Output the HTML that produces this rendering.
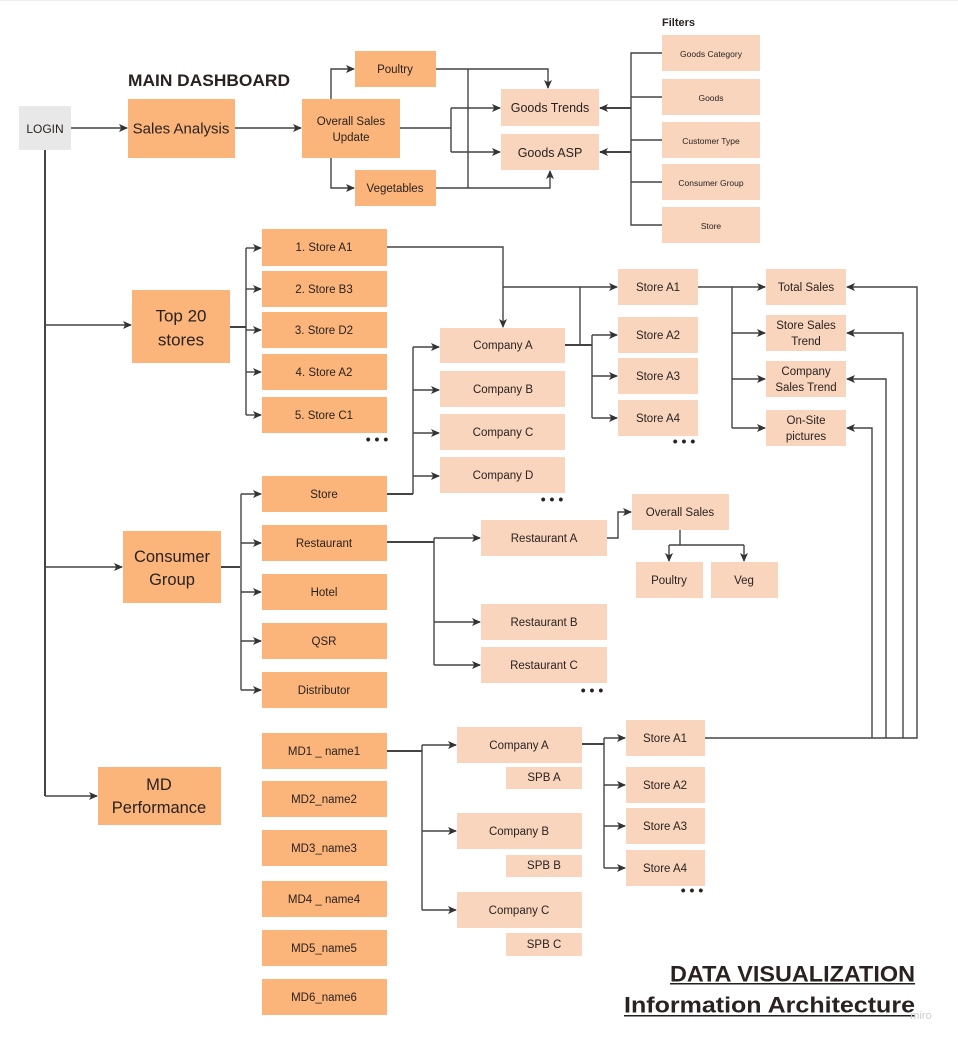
<!DOCTYPE html>
<html><head><meta charset="utf-8"><style>
html,body{margin:0;padding:0;background:#fff;}
svg{display:block;font-family:"Liberation Sans",sans-serif;}
.d{fill:#FBB479}
.l{fill:#F9D5BD}
.g{fill:#E8E8E8}
text{fill:#2a2220;text-anchor:middle;dominant-baseline:central}
.c{fill:none;stroke:#444;stroke-width:1.4}
.t{stroke-width:2}
</style></head><body>
<svg width="958" height="1043" viewBox="0 0 958 1043" xmlns="http://www.w3.org/2000/svg">
<defs>
<marker id="a" markerWidth="9" markerHeight="9" refX="8" refY="4.5" orient="auto" markerUnits="userSpaceOnUse">
<path d="M0,0.5 L9,4.5 L0,8.5 L2.2,4.5 Z" fill="#333"/></marker>
</defs>
<rect x="0" y="0" width="958" height="1" fill="#eee"/>

<!-- top section -->
<rect class="g" x="19" y="106" width="52" height="44"/><text x="45" y="129" font-size="12">LOGIN</text>
<text x="128" y="81" font-size="16.5" font-weight="bold" textLength="162" lengthAdjust="spacingAndGlyphs" style="text-anchor:start">MAIN DASHBOARD</text>
<rect class="d" x="128" y="99" width="107" height="59"/><text x="181" y="129" font-size="15">Sales Analysis</text>
<rect class="d" x="302" y="99" width="98" height="59"/><text x="351" y="122" font-size="11.5">Overall Sales</text><text x="351" y="138" font-size="11.5">Update</text>
<rect class="d" x="355" y="51" width="81" height="36"/><text x="395" y="70" font-size="11.5">Poultry</text>
<rect class="d" x="355" y="170" width="81" height="36"/><text x="395" y="189" font-size="11.5">Vegetables</text>
<rect class="l" x="501" y="89" width="98" height="37"/><text x="550" y="108" font-size="12.5">Goods Trends</text>
<rect class="l" x="501" y="134" width="98" height="36"/><text x="550" y="153" font-size="12.5">Goods ASP</text>
<text x="662" y="23" font-size="11" font-weight="bold" style="text-anchor:start">Filters</text>
<rect class="l" x="662" y="35" width="98" height="36"/><text x="711" y="54" font-size="8.5">Goods Category</text>
<rect class="l" x="662" y="79" width="98" height="36"/><text x="711" y="98" font-size="8.5">Goods</text>
<rect class="l" x="662" y="122" width="98" height="36"/><text x="711" y="141" font-size="8.5">Customer Type</text>
<rect class="l" x="662" y="164" width="98" height="36"/><text x="711" y="183" font-size="8.5">Consumer Group</text>
<rect class="l" x="662" y="207" width="98" height="36"/><text x="711" y="226" font-size="8.5">Store</text>

<path class="c" d="M71,128 H127" marker-end="url(#a)"/>
<path class="c" d="M235,128 H301" marker-end="url(#a)"/>
<path class="c" d="M331,99 V69 H354" marker-end="url(#a)"/>
<path class="c" d="M331,158 V188 H354" marker-end="url(#a)"/>
<path class="c" d="M436,69 H548 V88" marker-end="url(#a)"/>
<path class="c" d="M436,188 H550 V171" marker-end="url(#a)"/>
<path class="c" d="M468,69 V188"/>
<path class="c" d="M400,128 H451 M451,108 V152 M451,108 H500" marker-end="url(#a)"/>
<path class="c" d="M451,152 H500" marker-end="url(#a)"/>
<path class="c" d="M662,53 H631 V225 H662 M631,97 H662 M631,140 H662 M631,182 H662"/>
<path class="c t" d="M631,108 H600" marker-end="url(#a)"/>
<path class="c t" d="M631,152 H600" marker-end="url(#a)"/>

<!-- login trunk -->
<path class="c t" d="M45,150 V796"/>
<path class="c" d="M45,325 H131" marker-end="url(#a)"/>
<path class="c" d="M45,567 H122" marker-end="url(#a)"/>
<path class="c" d="M45,796 H97" marker-end="url(#a)"/>

<!-- top 20 -->
<rect class="d" x="132" y="290" width="98" height="73"/><text x="181" y="316" font-size="17">Top 20</text><text x="181" y="340" font-size="17">stores</text>
<rect class="d" x="262" y="229" width="125" height="37"/><text x="324" y="248" font-size="11.5">1. Store A1</text>
<rect class="d" x="262" y="271" width="125" height="36"/><text x="324" y="290" font-size="11.5">2. Store B3</text>
<rect class="d" x="262" y="312" width="125" height="36"/><text x="324" y="331" font-size="11.5">3. Store D2</text>
<rect class="d" x="262" y="354" width="125" height="36"/><text x="324" y="373" font-size="11.5">4. Store A2</text>
<rect class="d" x="262" y="397" width="125" height="36"/><text x="324" y="416" font-size="11.5">5. Store C1</text>
<text x="377" y="439" font-size="14" font-weight="bold">• • •</text>
<path class="c t" d="M230,327 H246"/>
<path class="c" d="M246,248 V415"/>
<path class="c" d="M246,248 H261" marker-end="url(#a)"/><path class="c" d="M246,289 H261" marker-end="url(#a)"/><path class="c" d="M246,330 H261" marker-end="url(#a)"/><path class="c" d="M246,372 H261" marker-end="url(#a)"/><path class="c" d="M246,415 H261" marker-end="url(#a)"/>

<!-- companies -->
<path class="c" d="M387,247 H503 V327" marker-end="url(#a)"/>
<path class="c" d="M503,287 H617" marker-end="url(#a)"/>
<path class="c t" d="M565,345 H592"/>
<path class="c" d="M580,345 V287"/>
<path class="c" d="M592,335 V418"/>
<path class="c" d="M592,335 H617" marker-end="url(#a)"/>
<path class="c" d="M592,376 H617" marker-end="url(#a)"/>
<path class="c" d="M592,418 H617" marker-end="url(#a)"/>
<rect class="l" x="440" y="328" width="125" height="35"/><text x="503" y="346" font-size="11.5">Company A</text>
<rect class="l" x="440" y="371" width="125" height="36"/><text x="503" y="390" font-size="11.5">Company B</text>
<rect class="l" x="440" y="414" width="125" height="36"/><text x="503" y="433" font-size="11.5">Company C</text>
<rect class="l" x="440" y="457" width="125" height="36"/><text x="503" y="476" font-size="11.5">Company D</text>
<text x="552" y="499" font-size="14" font-weight="bold">• • •</text>
<rect class="l" x="618" y="269" width="80" height="36"/><text x="658" y="288" font-size="11.5">Store A1</text>
<rect class="l" x="618" y="317" width="80" height="36"/><text x="658" y="336" font-size="11.5">Store A2</text>
<rect class="l" x="618" y="358" width="80" height="36"/><text x="658" y="377" font-size="11.5">Store A3</text>
<rect class="l" x="618" y="400" width="80" height="36"/><text x="658" y="419" font-size="11.5">Store A4</text>
<text x="684" y="441" font-size="14" font-weight="bold">• • •</text>
<path class="c" d="M698,287 H732 V428" />
<path class="c" d="M732,287 H765" marker-end="url(#a)"/>
<path class="c" d="M732,333 H765" marker-end="url(#a)"/>
<path class="c" d="M732,379 H765" marker-end="url(#a)"/>
<path class="c" d="M732,428 H765" marker-end="url(#a)"/>
<rect class="l" x="766" y="269" width="80" height="36"/><text x="806" y="288" font-size="11.5">Total Sales</text>
<rect class="l" x="766" y="315" width="80" height="36"/><text x="806" y="326" font-size="11.5">Store Sales</text><text x="806" y="342" font-size="11.5">Trend</text>
<rect class="l" x="766" y="361" width="80" height="36"/><text x="806" y="372" font-size="11.5">Company</text><text x="806" y="388" font-size="11.5">Sales Trend</text>
<rect class="l" x="766" y="410" width="80" height="36"/><text x="806" y="421" font-size="11.5">On-Site</text><text x="806" y="437" font-size="11.5">pictures</text>

<!-- return lines -->
<path class="c" d="M705,738 H917 V287 H847" marker-end="url(#a)"/>
<path class="c" d="M903,738 V333 H847" marker-end="url(#a)"/>
<path class="c" d="M886,738 V379 H847" marker-end="url(#a)"/>
<path class="c" d="M872,738 V428 H847" marker-end="url(#a)"/>

<!-- consumer group -->
<rect class="d" x="123" y="531" width="98" height="72"/><text x="172" y="557" font-size="16.5">Consumer</text><text x="172" y="580" font-size="16.5">Group</text>
<path class="c t" d="M221,567 H240"/>
<path class="c" d="M241,494 V690"/>
<path class="c" d="M241,494 H261" marker-end="url(#a)"/><path class="c" d="M241,543 H261" marker-end="url(#a)"/><path class="c" d="M241,592 H261" marker-end="url(#a)"/><path class="c" d="M241,641 H261" marker-end="url(#a)"/><path class="c" d="M241,690 H261" marker-end="url(#a)"/>
<rect class="d" x="262" y="476" width="125" height="36"/><text x="324" y="495" font-size="11.5">Store</text>
<rect class="d" x="262" y="525" width="125" height="36"/><text x="324" y="544" font-size="11.5">Restaurant</text>
<rect class="d" x="262" y="574" width="125" height="36"/><text x="324" y="593" font-size="11.5">Hotel</text>
<rect class="d" x="262" y="623" width="125" height="36"/><text x="324" y="642" font-size="11.5">QSR</text>
<rect class="d" x="262" y="672" width="125" height="36"/><text x="324" y="691" font-size="11.5">Distributor</text>
<path class="c t" d="M387,494 H413"/>
<path class="c" d="M413,494 V347"/>
<path class="c" d="M413,347 H439" marker-end="url(#a)"/><path class="c" d="M413,390 H439" marker-end="url(#a)"/><path class="c" d="M413,433 H439" marker-end="url(#a)"/><path class="c" d="M413,476 H439" marker-end="url(#a)"/>
<path class="c t" d="M387,542 H434"/>
<path class="c" d="M434,538 V665"/>
<path class="c" d="M434,538 H480" marker-end="url(#a)"/><path class="c" d="M434,622 H480" marker-end="url(#a)"/><path class="c" d="M434,665 H480" marker-end="url(#a)"/>
<rect class="l" x="481" y="520" width="126" height="36"/><text x="544" y="539" font-size="11.5">Restaurant A</text>
<rect class="l" x="481" y="604" width="126" height="36"/><text x="544" y="623" font-size="11.5">Restaurant B</text>
<rect class="l" x="481" y="647" width="126" height="36"/><text x="544" y="666" font-size="11.5">Restaurant C</text>
<text x="592" y="690" font-size="14" font-weight="bold">• • •</text>
<path class="c" d="M607,538 H618 V512 H631" marker-end="url(#a)"/>
<rect class="l" x="632" y="494" width="97" height="36"/><text x="680" y="513" font-size="11.5">Overall Sales</text>
<path class="c" d="M680,530 V545 M669,545 H744"/>
<path class="c" d="M669,545 V561" marker-end="url(#a)"/><path class="c" d="M744,545 V561" marker-end="url(#a)"/>
<rect class="l" x="636" y="562" width="67" height="36"/><text x="669" y="581" font-size="11.5">Poultry</text>
<rect class="l" x="711" y="562" width="67" height="36"/><text x="744" y="581" font-size="11.5">Veg</text>

<!-- MD -->
<rect class="d" x="98" y="767" width="123" height="58"/><text x="159" y="785" font-size="16.5">MD</text><text x="159" y="808" font-size="16.5">Performance</text>
<rect class="d" x="262" y="733" width="125" height="36"/><text x="324" y="752" font-size="11.5">MD1 _ name1</text>
<rect class="d" x="262" y="781" width="125" height="36"/><text x="324" y="800" font-size="11.5">MD2_name2</text>
<rect class="d" x="262" y="830" width="125" height="36"/><text x="324" y="849" font-size="11.5">MD3_name3</text>
<rect class="d" x="262" y="881" width="125" height="36"/><text x="324" y="900" font-size="11.5">MD4 _ name4</text>
<rect class="d" x="262" y="930" width="125" height="36"/><text x="324" y="949" font-size="11.5">MD5_name5</text>
<rect class="d" x="262" y="979" width="125" height="36"/><text x="324" y="998" font-size="11.5">MD6_name6</text>
<path class="c t" d="M387,751 H422"/>
<path class="c" d="M422,745 V910"/>
<path class="c" d="M422,745 H456" marker-end="url(#a)"/><path class="c" d="M422,831 H456" marker-end="url(#a)"/><path class="c" d="M422,910 H456" marker-end="url(#a)"/>
<rect class="l" x="457" y="727" width="125" height="36"/><text x="519" y="746" font-size="11.5">Company A</text>
<rect class="l" x="506" y="767" width="76" height="22"/><text x="544" y="778" font-size="11.5">SPB A</text>
<rect class="l" x="457" y="813" width="125" height="36"/><text x="519" y="832" font-size="11.5">Company B</text>
<rect class="l" x="506" y="855" width="76" height="22"/><text x="544" y="866" font-size="11.5">SPB B</text>
<rect class="l" x="457" y="892" width="125" height="36"/><text x="519" y="911" font-size="11.5">Company C</text>
<rect class="l" x="506" y="933" width="76" height="23"/><text x="544" y="945" font-size="11.5">SPB C</text>
<path class="c t" d="M582,744 H604"/>
<path class="c" d="M604,738 V868"/>
<path class="c" d="M604,738 H625" marker-end="url(#a)"/><path class="c" d="M604,785 H625" marker-end="url(#a)"/><path class="c" d="M604,826 H625" marker-end="url(#a)"/><path class="c" d="M604,868 H625" marker-end="url(#a)"/>
<rect class="l" x="626" y="720" width="79" height="36"/><text x="665" y="739" font-size="11.5">Store A1</text>
<rect class="l" x="626" y="767" width="79" height="36"/><text x="665" y="786" font-size="11.5">Store A2</text>
<rect class="l" x="626" y="808" width="79" height="36"/><text x="665" y="827" font-size="11.5">Store A3</text>
<rect class="l" x="626" y="850" width="79" height="36"/><text x="665" y="869" font-size="11.5">Store A4</text>
<text x="692" y="890" font-size="14" font-weight="bold">• • •</text>

<!-- title -->
<text x="670" y="974" font-size="22" font-weight="bold" textLength="245" lengthAdjust="spacingAndGlyphs" style="text-anchor:start">DATA VISUALIZATION</text>
<rect x="670" y="983" width="245" height="1.5" fill="#222"/>
<text x="624" y="1005" font-size="22" font-weight="bold" textLength="291" lengthAdjust="spacingAndGlyphs" style="text-anchor:start">Information Architecture</text>
<rect x="624" y="1015" width="291" height="1.5" fill="#222"/>
<text x="921" y="1016" font-size="11" style="fill:#ccc">miro</text>
</svg>
</body></html>
